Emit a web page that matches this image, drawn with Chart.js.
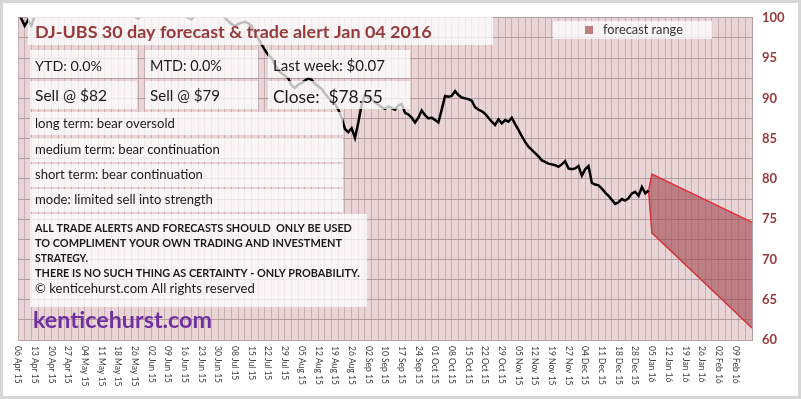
<!DOCTYPE html>
<html>
<head>
<meta charset="utf-8">
<script src="https://cdn.jsdelivr.net/npm/chart.js@4.4.1/dist/chart.umd.min.js"></script>
<style>
    html, body { margin: 0; padding: 0; background: #ffffff; }
    #wrap { width: 801px; height: 399px; }
</style>
</head>
<body>
<div id="wrap"><canvas id="dujChart" width="801" height="399"></canvas></div>
<script>
// x tick labels, one every 5 trading days
const tickLabels = ['06 Apr 15', '13 Apr 15', '20 Apr 15', '27 Apr 15', '04 May 15', '11 May 15', '18 May 15', '26 May 15',
    '02 Jun 15', '09 Jun 15', '16 Jun 15', '23 Jun 15', '30 Jun 15', '08 Jul 15', '15 Jul 15', '22 Jul 15', '29 Jul 15',
    '05 Aug 15', '12 Aug 15', '19 Aug 15', '26 Aug 15', '02 Sep 15', '10 Sep 15', '17 Sep 15', '24 Sep 15', '01 Oct 15',
    '08 Oct 15', '15 Oct 15', '22 Oct 15', '29 Oct 15', '05 Nov 15', '12 Nov 15', '19 Nov 15', '27 Nov 15', '04 Dec 15',
    '11 Dec 15', '18 Dec 15', '28 Dec 15', '05 Jan 16', '12 Jan 16', '19 Jan 16', '26 Jan 16', '02 Feb 16', '09 Feb 16'];

// daily close, one value per trading day from 06 Apr 15 to 04 Jan 16
const closeValues = [
    100.6, 99.9, 99.0, 99.7, 99.0, 100.2, 101.0, 101.5, 101.2, 102.0,
    102.5, 103.0, 102.6, 103.4, 103.8, 103.2, 104.0, 103.5, 103.0, 102.6,
    102.0, 101.6, 102.2, 101.5, 101.0, 101.4, 101.8, 101.2, 100.8, 101.3,
    101.0, 100.6, 101.2, 100.8, 100.4, 100.1, 99.9, 100.3, 100.8, 101.2,
    101.0, 100.7, 101.3, 101.6, 101.1, 100.8, 100.5, 101.0, 100.6, 100.3,
    100.2, 100.0, 99.8, 100.3, 100.8, 101.2, 101.5, 101.0, 100.8, 101.3,
    101.0, 100.5, 100.0, 99.6, 99.2, 99.0, 99.2, 99.4, 99.5, 99.3,
    99.0, 98.2, 97.4, 96.7, 96.0, 95.4, 95.0, 94.2, 93.5, 93.1,
    92.8, 92.5, 91.6, 91.3, 91.7, 91.9, 92.2, 92.5, 92.3, 91.8,
    91.5, 91.2, 90.6, 90.1, 89.6, 89.3, 88.6, 87.6, 86.2, 85.8,
    86.3, 85.1, 87.0, 89.2, 90.5, 90.1, 89.9, 89.5, 89.2, 88.9,
    88.7, 89.0, 88.8, 88.6, 89.1, 89.3, 88.2, 88.0, 87.6, 87.0,
    87.6, 88.5, 87.9, 87.5, 87.6, 87.3, 87.0, 88.6, 90.3, 90.2,
    90.3, 90.9, 90.4, 90.1, 90.0, 89.9, 89.7, 88.9, 88.6, 88.4,
    88.1, 87.6, 87.1, 86.7, 87.4, 86.9, 87.3, 87.1, 87.6, 86.8,
    86.1, 85.3, 84.6, 84.0, 83.6, 83.2, 82.8, 82.3, 82.1, 81.9,
    81.8, 81.7, 81.5, 81.8, 82.2, 81.3, 81.2, 81.3, 81.6, 80.4,
    81.2, 81.6, 79.5, 79.3, 79.2, 78.8, 78.3, 77.9, 77.4, 76.9,
    77.1, 77.5, 77.3, 77.6, 78.2, 78.4, 77.9, 79.0, 78.2, 78.55
];

// forecast range (trading day index, upper and lower bound)
const forecastDays = [189, 190, 220];
const forecastHigh = [78.55, 80.6, 74.6];
const forecastLow = [78.55, 73.3, 61.5];

const yTicks = [60, 65, 70, 75, 80, 85, 90, 95, 100];

const titleText = 'DJ-UBS 30 day forecast & trade alert Jan 04 2016';
const statTexts = ['YTD: 0.0%', 'MTD: 0.0%', 'Last week: $0.07', 'Sell @ $82', 'Sell @ $79', 'Close:  $78.55'];
const trendTexts = ['long term: bear oversold', 'medium term: bear continuation', 'short term: bear continuation', 'mode: limited sell into strength'];
const disclaimerTexts = ['ALL TRADE ALERTS AND FORECASTS SHOULD  ONLY BE USED', 'TO COMPLIMENT YOUR OWN TRADING AND INVESTMENT',
    'STRATEGY.', 'THERE IS NO SUCH THING AS CERTAINTY - ONLY PROBABILITY.'];
const copyrightText = '\u00A9 kenticehurst.com All rights reserved';
const siteText = 'kenticehurst.com';
const legendText = 'forecast range';

const FONT = 'Lato, "Open Sans", sans-serif';
const DARK_RED = '#963a3c';

// escreve texto ajustando o tamanho da fonte a uma largura
function fitText(ctx, text, x, y, width, weight, color) {
    ctx.font = `${weight} 20px ${FONT}`;
    const size = 20 * width / ctx.measureText(text).width;
    ctx.font = `${weight} ${size.toFixed(2)}px ${FONT}`;
    ctx.fillStyle = color;
    ctx.textAlign = 'left';
    ctx.textBaseline = 'alphabetic';
    ctx.fillText(text, x, y);
}

function box(ctx, x, y, w, h) {
    ctx.fillStyle = 'rgba(255,255,255,0.74)';
    ctx.fillRect(x, y, w, h);
}

const decorPlugin = {
    id: 'decor',
    beforeDraw(chart) {
        const { ctx, chartArea } = chart;
        ctx.save();
        ctx.fillStyle = '#e9d4d6';
        ctx.fillRect(chartArea.left, chartArea.top, chartArea.right - chartArea.left, chartArea.bottom - chartArea.top);
        ctx.restore();
    },
    afterDraw(chart) {
        const { ctx } = chart;
        const xScale = chart.scales.x;
        ctx.save();

        // rotulos do eixo x (lidos de cima para baixo)
        ctx.fillStyle = '#404040';
        ctx.font = `8.5px ${FONT}`;
        ctx.textAlign = 'left';
        ctx.textBaseline = 'middle';
        tickLabels.forEach((label, k) => {
            const px = xScale.getPixelForValue(k * 5);
            ctx.save();
            ctx.translate(px, 346);
            ctx.rotate(Math.PI / 2);
            ctx.fillText(label, 0, 0);
            ctx.restore();
        });

        // caixas de texto
        box(ctx, 28, 17, 465, 28);
        box(ctx, 30, 50, 107, 28);
        box(ctx, 145, 50, 113, 28);
        box(ctx, 268, 50, 142, 28);
        box(ctx, 30, 81, 107, 28);
        box(ctx, 145, 81, 113, 28);
        box(ctx, 268, 81, 142, 28);
        box(ctx, 30, 112, 313, 23);
        box(ctx, 30, 138, 313, 24);
        box(ctx, 30, 164, 313, 23);
        box(ctx, 30, 189, 313, 23);
        box(ctx, 30, 214, 337, 93);
        box(ctx, 553, 21, 159, 18);

        fitText(ctx, titleText, 35, 38, 397, 'bold', DARK_RED);

        fitText(ctx, statTexts[0], 35, 71, 67, 'normal', '#1a1a1a');
        fitText(ctx, statTexts[1], 150, 71, 72, 'normal', '#1a1a1a');
        fitText(ctx, statTexts[2], 273, 71, 112, 'normal', '#1a1a1a');
        fitText(ctx, statTexts[3], 35, 101, 72, 'normal', '#1a1a1a');
        fitText(ctx, statTexts[4], 150, 101, 70, 'normal', '#1a1a1a');
        fitText(ctx, statTexts[5], 273, 103, 110, 'normal', '#1a1a1a');

        fitText(ctx, trendTexts[0], 35, 128, 140, 'normal', '#1a1a1a');
        fitText(ctx, trendTexts[1], 35, 154, 185, 'normal', '#1a1a1a');
        fitText(ctx, trendTexts[2], 35, 179, 168, 'normal', '#1a1a1a');
        fitText(ctx, trendTexts[3], 35, 204, 178, 'normal', '#1a1a1a');

        fitText(ctx, disclaimerTexts[0], 35, 232, 317, 'bold', '#1a1a1a');
        fitText(ctx, disclaimerTexts[1], 35, 247, 307, 'bold', '#1a1a1a');
        fitText(ctx, disclaimerTexts[2], 35, 262, 53, 'bold', '#1a1a1a');
        fitText(ctx, disclaimerTexts[3], 35, 277, 325, 'bold', '#1a1a1a');
        fitText(ctx, copyrightText, 35, 293, 220, 'normal', '#1a1a1a');

        fitText(ctx, siteText, 33, 328, 179, 'bold', '#7030a0');

        // legenda
        ctx.fillStyle = 'rgb(190,125,128)';
        ctx.fillRect(585, 26, 8, 8);
        fitText(ctx, legendText, 603, 34, 80, 'normal', '#333333');

        // moldura externa
        ctx.strokeStyle = '#d6d6d6';
        ctx.lineWidth = 3;
        ctx.strokeRect(1.5, 1.5, 798, 396);
        ctx.restore();
    }
};

const ctx = document.getElementById('dujChart').getContext('2d');
new Chart(ctx, {
    type: 'line',
    data: {
        datasets: [{
            label: 'DJ-UBS',
            data: closeValues.map((v, i) => ({ x: i, y: v })),
            borderColor: '#000000',
            borderWidth: 2.5,
            pointRadius: 0,
            tension: 0,
            fill: false,
            clip: 0
        }, {
            label: 'forecast high',
            data: forecastDays.map((d, i) => ({ x: d, y: forecastHigh[i] })),
            borderColor: 'rgb(226,48,58)',
            borderWidth: 1.5,
            pointRadius: 0,
            tension: 0,
            backgroundColor: 'rgba(160,70,75,0.6)',
            fill: '+1',
            clip: 0
        }, {
            label: 'forecast low',
            data: forecastDays.map((d, i) => ({ x: d, y: forecastLow[i] })),
            borderColor: 'rgb(226,48,58)',
            borderWidth: 1.5,
            pointRadius: 0,
            tension: 0,
            fill: false,
            clip: 0
        }]
    },
    options: {
        responsive: false,
        animation: false,
        layout: { padding: { left: 18, top: 10, right: 0, bottom: 0 } },
        plugins: {
            legend: { display: false },
            tooltip: { enabled: false }
        },
        scales: {
            x: {
                type: 'linear',
                min: 0,
                max: 220,
                ticks: { display: false, stepSize: 2 },
                grid: { color: '#c7aeb2', lineWidth: 1, drawTicks: false },
                border: { color: '#b9a3a6' },
                afterFit: function (scale) { scale.height = 59; }
            },
            y: {
                position: 'right',
                min: 60,
                max: 100,
                ticks: {
                    stepSize: 2.5,
                    padding: 10,
                    color: DARK_RED,
                    font: { family: FONT, size: 13, weight: 'bold' },
                    callback: function (value) {
                        return yTicks.includes(value) ? String(value) : '';
                    }
                },
                grid: { color: '#b29ea1', lineWidth: 1, drawTicks: false },
                border: { color: '#b29ea1' },
                afterFit: function (scale) { scale.width = 49; }
            }
        }
    },
    plugins: [decorPlugin]
});
</script>
</body>
</html>
